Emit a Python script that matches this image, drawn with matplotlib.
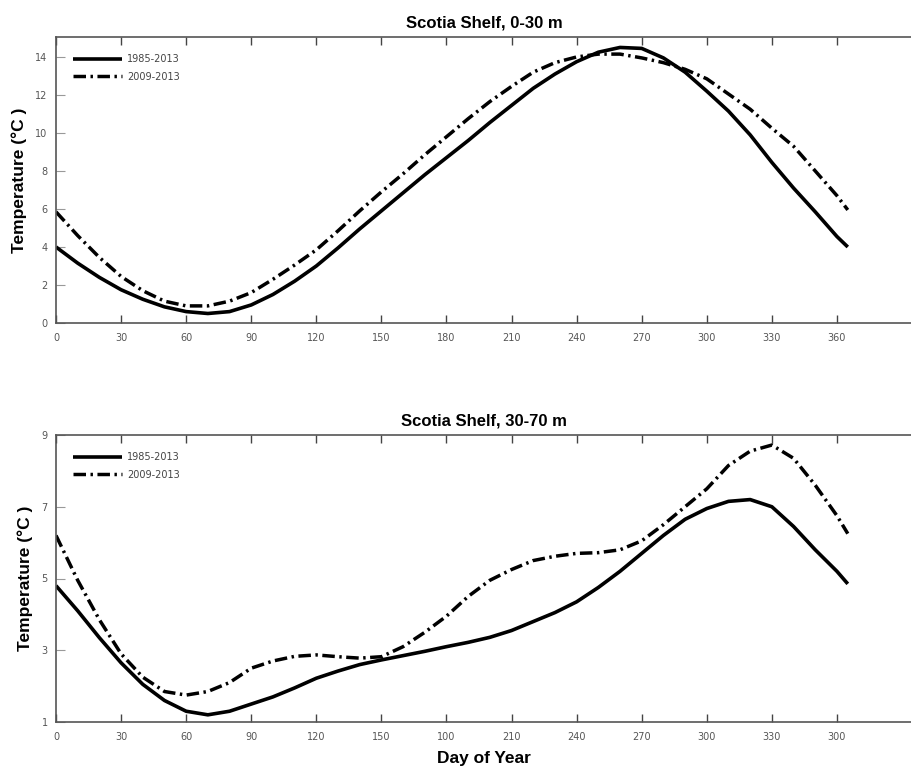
import matplotlib
matplotlib.use("Agg")
import matplotlib.pyplot as plt

days = [0, 10, 20, 30, 40, 50, 60, 70, 80, 90, 100, 110, 120, 130, 140, 150, 160, 170, 180,
        190, 200, 210, 220, 230, 240, 250, 260, 270, 280, 290, 300, 310, 320, 330, 340, 350, 360, 365]

top_1985_2013 = [4.0, 3.15, 2.4, 1.75, 1.25, 0.85, 0.6, 0.5, 0.6, 0.95, 1.5, 2.2, 3.0, 3.95, 4.95,
                 5.9, 6.85, 7.8, 8.7, 9.6, 10.55, 11.45, 12.35, 13.1, 13.75, 14.25, 14.5, 14.45,
                 13.95, 13.2, 12.2, 11.15, 9.9, 8.45, 7.1, 5.85, 4.55, 4.0]
top_2009_2013 = [5.85, 4.6, 3.45, 2.45, 1.7, 1.15, 0.9, 0.9, 1.15, 1.6, 2.3, 3.05, 3.85, 4.85, 5.9,
                 6.9, 7.85, 8.85, 9.8, 10.75, 11.65, 12.45, 13.2, 13.7, 14.0, 14.15, 14.15, 13.95,
                 13.7, 13.35, 12.85, 12.05, 11.25, 10.25, 9.3, 8.0, 6.7, 5.95]

bot_1985_2013 = [4.8, 4.1, 3.35, 2.65, 2.05, 1.6, 1.3, 1.2, 1.3, 1.5, 1.7, 1.95, 2.22, 2.42, 2.6,
                 2.73, 2.85, 2.97, 3.1, 3.22, 3.36, 3.55, 3.8, 4.05, 4.35, 4.75, 5.2, 5.7,
                 6.2, 6.65, 6.95, 7.15, 7.2, 7.0, 6.45, 5.8, 5.2, 4.85]
bot_2009_2013 = [6.2, 4.95, 3.85, 2.9, 2.25, 1.85, 1.75, 1.85, 2.1, 2.5, 2.7, 2.83, 2.87, 2.82, 2.78,
                 2.82, 3.1, 3.5, 3.95, 4.5, 4.95, 5.25, 5.5, 5.62, 5.7, 5.72, 5.8, 6.05,
                 6.5, 7.0, 7.5, 8.15, 8.55, 8.72, 8.35, 7.6, 6.75, 6.25]

xticks = [0, 30, 60, 90, 120, 150, 180, 210, 240, 270, 300, 330, 360]
top_xticklabels = ["0", "30", "60", "90", "120", "150", "180", "210", "240", "270", "300", "330", "360"]
bot_xticklabels = ["0", "30", "60", "90", "120", "150", "100", "210", "240", "270", "300", "330", "300"]
top_yticks = [0, 2, 4, 6, 8, 10, 12, 14]
bot_yticks = [1, 3, 5, 7, 9]

labels = ["1985-2013", "2009-2013"]
titles = ["Scotia Shelf, 0-30 m", "Scotia Shelf, 30-70 m"]

W, H = 912, 769
fig = plt.figure(figsize=(W / 100, H / 100), dpi=100)

def px_axes(l, t, r, b):
    return fig.add_axes([l / W, 1 - b / H, (r - l) / W, (b - t) / H])

ax1 = px_axes(56, 37, 912, 323)
ax2 = px_axes(56, 435, 912, 722)

dash = (0, (3.6, 1.3, 0.7, 1.3))
bold_font = ["Liberation Sans", "DejaVu Sans"]

for ax, s1, s2, ylim, yticks, xtl, title in [
    (ax1, top_1985_2013, top_2009_2013, (0, 15.05), top_yticks, top_xticklabels, titles[0]),
    (ax2, bot_1985_2013, bot_2009_2013, (1, 9), bot_yticks, bot_xticklabels, titles[1]),
]:
    ax.plot(days, s1, color="black", lw=2.6, solid_capstyle="butt", solid_joinstyle="round",
            label=labels[0])
    ax.plot(days, s2, color="black", lw=2.5, linestyle=dash, dash_capstyle="butt", label=labels[1])
    ax.set_xlim(0, 394.6)
    ax.set_ylim(*ylim)
    ax.set_xticks(xticks)
    ax.set_xticklabels(xtl)
    ax.set_yticks(yticks)
    ax.tick_params(axis="x", direction="in", length=6, width=1, color="#444444",
                   labelsize=7, labelcolor="#555555", pad=7, top=True)
    ax.tick_params(axis="y", direction="in", length=6.5, width=0.8, color="#999999",
                   labelsize=7, labelcolor="#555555", pad=6)
    ax.spines["right"].set_visible(False)
    for sp in ["left", "bottom", "top"]:
        ax.spines[sp].set_color("#555555")
        ax.spines[sp].set_linewidth(1.2)
    ax.set_title(title, fontsize=12, fontweight="bold", family=bold_font, pad=7)
    ax.set_ylabel("Temperature (°C )", fontsize=12.5, fontweight="bold", family=bold_font, labelpad=6)
    leg = ax.legend(loc="upper left", bbox_to_anchor=(0.0, 1.0), frameon=False, fontsize=7,
                    handlelength=5.0, handletextpad=0.5, labelspacing=0.75, borderaxespad=1.4)
    for t in leg.get_texts():
        t.set_color("#444444")

ax2.set_xlabel("Day of Year", fontsize=12.5, fontweight="bold", family=bold_font, labelpad=7)

fig.savefig("out.png", dpi=100)
